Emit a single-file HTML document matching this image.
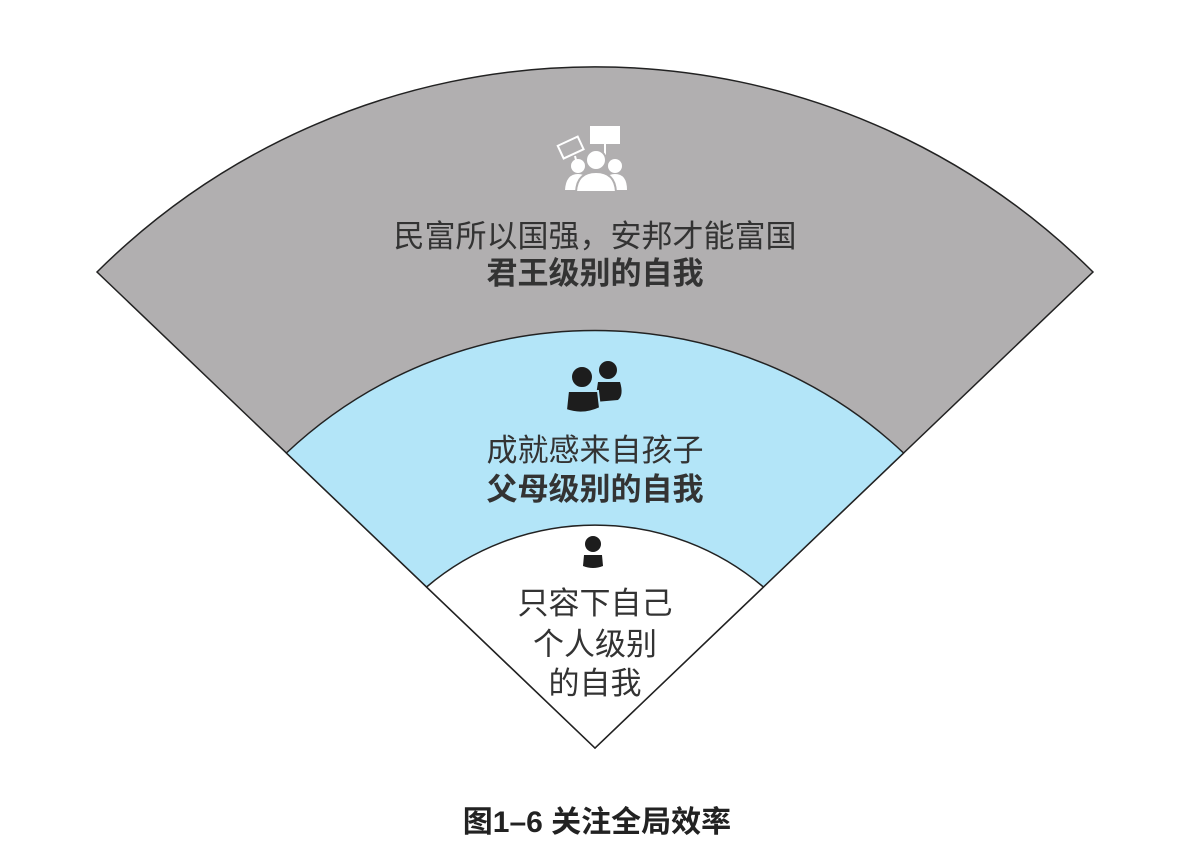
<!DOCTYPE html>
<html><head><meta charset="utf-8"><style>
body{margin:0;background:#fff;width:1200px;height:853px;overflow:hidden}
text{font-family:"Liberation Sans","Noto Sans CJK SC",sans-serif}
</style></head><body>
<svg width="1200" height="853" viewBox="0 0 1200 853">
<path d="M595,748 L97,272 A707,707 0 0 1 1093,272 Z" fill="#b1afb0" stroke="#222" stroke-width="1.5"/>
<path d="M595,748 L286.4,453 A450,450 0 0 1 903.6,453 Z" fill="#b3e5f8" stroke="#222" stroke-width="1.5"/>
<path d="M595,748 L426.6,587 A260,260 0 0 1 763.4,587 Z" fill="#fff" stroke="#222" stroke-width="1.5"/>
<!-- crowd icon -->
<g fill="#fff">
<rect x="590" y="126" width="30" height="18" fill="#fff"/>
<line x1="605" y1="144" x2="605" y2="155" stroke="#fff" stroke-width="2"/>
<g transform="rotate(-25 572 148)"><rect x="560" y="140" width="22" height="14" fill="none" stroke="#fff" stroke-width="2"/></g>
<line x1="575" y1="156" x2="578" y2="168" stroke="#fff" stroke-width="2"/>
<circle cx="578" cy="166" r="7"/><path d="M565,190 Q566,174 578,174 Q590,174 590,190Z"/>
<circle cx="615" cy="166" r="7"/><path d="M602,190 Q603,174 615,174 Q627,174 627,190Z"/>
<circle cx="596" cy="160" r="10" stroke="#b1afb0" stroke-width="2"/>
<path d="M576,192 Q577,172 596,172 Q615,172 616,192Z" stroke="#b1afb0" stroke-width="2"/>
</g>
<!-- parents icon -->
<g fill="#1d1d1d">
<circle cx="608" cy="370" r="9"/><path d="M595,402 L598,382 L620,382 Q624,395 618,400Z"/>
<circle cx="582" cy="377" r="11" stroke="#b3e5f8" stroke-width="2"/>
<path d="M566,410 L568,391 L598,391 L600,408 Q583,416 566,410Z" stroke="#b3e5f8" stroke-width="2"/>
</g>
<!-- single person -->
<g fill="#1d1d1d">
<circle cx="593" cy="544" r="8"/><path d="M583,566 L584,555 L602,555 L603,566 Q593,570 583,566Z"/>
</g>
<g font-size="31" text-anchor="middle" fill="#333">
<text x="595" y="247">民富所以国强，安邦才能富国</text>
<text x="595" y="284" font-weight="bold">君王级别的自我</text>
<text x="595" y="461">成就感来自孩子</text>
<text x="595" y="500" font-weight="bold">父母级别的自我</text>
<text x="595" y="614">只容下自己</text>
<text x="595" y="655">个人级别</text>
<text x="595" y="694">的自我</text>
</g>
<text x="597" y="832" font-size="30" font-weight="bold" text-anchor="middle" fill="#222">图1–6 关注全局效率</text>
</svg>
</body></html>
